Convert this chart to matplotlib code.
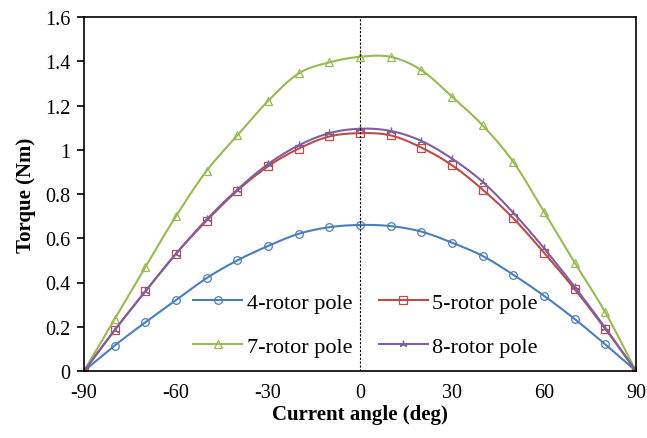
import numpy as np
import matplotlib.pyplot as plt

plt.rcParams['font.family'] = ['Liberation Serif', 'DejaVu Serif']
plt.rcParams['axes.unicode_minus'] = False

angle = [-90, -80, -70, -60, -50, -40, -30, -20, -10, 0,
         10, 20, 30, 40, 50, 60, 70, 80, 90]
pole4 = [0, 0.115, 0.22, 0.32, 0.42, 0.50, 0.565, 0.62, 0.65, 0.66,
         0.655, 0.63, 0.58, 0.52, 0.435, 0.34, 0.235, 0.12, 0]
pole5 = [0, 0.185, 0.36, 0.53, 0.68, 0.815, 0.925, 1.005, 1.06, 1.075,
         1.065, 1.01, 0.93, 0.82, 0.69, 0.535, 0.37, 0.19, 0]
pole7 = [0, 0.235, 0.47, 0.70, 0.905, 1.065, 1.22, 1.345, 1.395, 1.42,
         1.42, 1.36, 1.24, 1.11, 0.945, 0.72, 0.49, 0.265, 0]
pole8 = [0, 0.185, 0.36, 0.53, 0.685, 0.82, 0.935, 1.02, 1.075, 1.095,
         1.085, 1.04, 0.96, 0.855, 0.715, 0.555, 0.38, 0.195, 0]

labels = ['4-rotor pole', '5-rotor pole', '7-rotor pole', '8-rotor pole']
colors = ['#4A7EBB', '#BE4B48', '#98B954', '#7D60A0']
markers = ['o', 's', '^', (3, 2, 0)]


def smooth(x, y, n=12):
    # catmull-rom through the points, like excel's smoothed line
    x = np.asarray(x, float)
    y = np.asarray(y, float)
    px = np.concatenate([[2 * x[0] - x[1]], x, [2 * x[-1] - x[-2]]])
    py = np.concatenate([[2 * y[0] - y[1]], y, [2 * y[-1] - y[-2]]])
    xs, ys = [], []
    t = np.linspace(0, 1, n, endpoint=False)
    for i in range(1, len(px) - 2):
        for p, out in ((px, xs), (py, ys)):
            p0, p1, p2, p3 = p[i - 1], p[i], p[i + 1], p[i + 2]
            out.extend(0.5 * (2 * p1 + (-p0 + p2) * t
                              + (2 * p0 - 5 * p1 + 4 * p2 - p3) * t ** 2
                              + (-p0 + 3 * p1 - 3 * p2 + p3) * t ** 3))
    xs.append(x[-1])
    ys.append(y[-1])
    return xs, ys


fig = plt.figure(figsize=(6.47, 4.39), dpi=100)
ax = fig.add_axes([84 / 647, 1 - 372 / 439, 552 / 647, 354 / 439])

handles = []
for vals, lab, c, m in zip([pole4, pole5, pole7, pole8], labels, colors, markers):
    sx, sy = smooth(angle, vals)
    ax.plot(sx, sy, color=c, lw=1.5)
    ax.plot(angle, vals, ls='none', marker=m, ms=5.5, mfc='none', mec=c, mew=0.9)
    h, = ax.plot([], [], color=c, lw=1.5, marker=m, ms=5.5, mfc='none', mec=c, mew=0.9, label=lab)
    handles.append(h)

ax.axvline(0, color='black', ls='--', lw=0.8, dashes=(2, 1.5))

ax.set_xlim(-90, 90)
ax.set_ylim(0, 1.6)
ax.set_xticks(range(-90, 91, 30))
ax.set_yticks(np.arange(0, 1.61, 0.2))
ax.set_yticklabels(['0', '0.2', '0.4', '0.6', '0.8', '1', '1.2', '1.4', '1.6'])
ax.tick_params(axis='both', labelsize=14.5, direction='out')
ax.tick_params(axis='x', length=0, pad=9)
ax.tick_params(axis='y', length=5, width=1.2, pad=5)
for s in ax.spines.values():
    s.set_linewidth(1.2)

ax.set_xlabel('Current angle (deg)', fontsize=15, fontweight='bold', labelpad=1)
ax.set_ylabel('Torque (Nm)', fontsize=15, fontweight='bold', labelpad=6)

order = [0, 2, 1, 3]
ax.legend([handles[i] for i in order], [labels[i] for i in order],
          ncol=2, loc='lower center', bbox_to_anchor=(0.51, -0.017), frameon=False,
          fontsize=16, handlelength=2.2, handletextpad=0.2, columnspacing=1.2,
          labelspacing=1.05)

fig.savefig('out.png', dpi=100)
